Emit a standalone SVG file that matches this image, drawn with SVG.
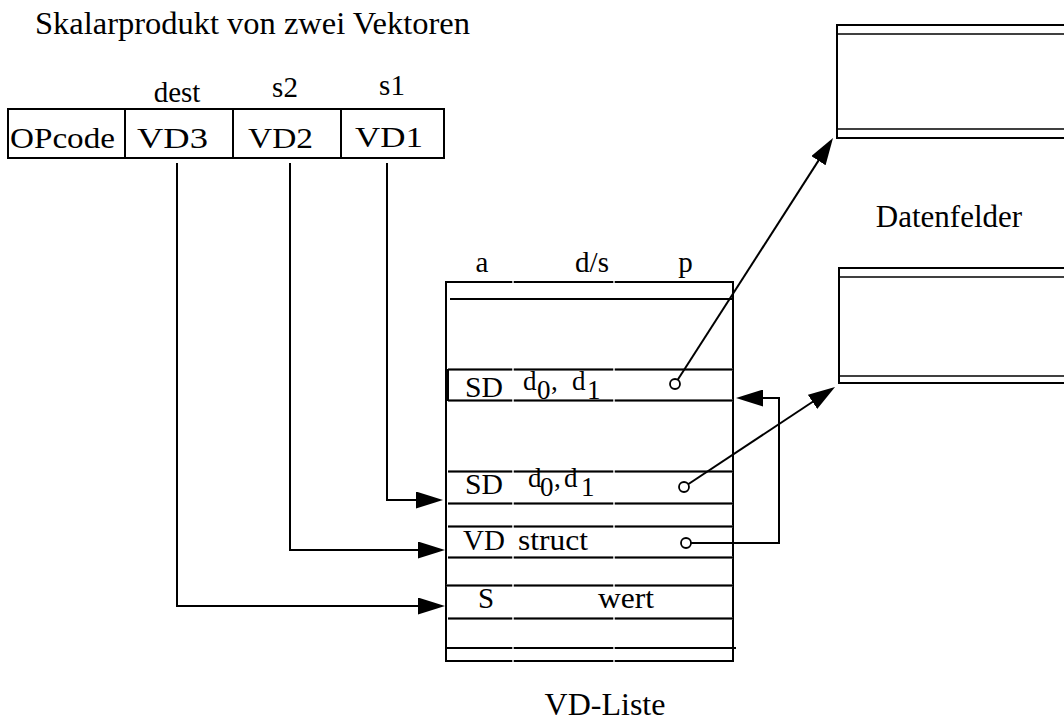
<svg xmlns="http://www.w3.org/2000/svg" width="1064" height="722" viewBox="0 0 1064 722">
<style>
text{font-family:"Liberation Serif","Times New Roman",serif;fill:#000}
.t30{font-size:30px}
.t29{font-size:29px}
.sub{font-size:27px}
.box{fill:#fff;stroke:#000;stroke-width:2}
.ln{stroke:#000;stroke-width:2;fill:none}
.thin{stroke:#000;stroke-width:1.6;fill:none}
.gr{stroke:#b0b0b0;stroke-width:2}
.hl{stroke:#000;stroke-width:2;stroke-dasharray:64 2 99 2 300}
.hl0{stroke:#000;stroke-width:2;stroke-dasharray:66 2 99 2 300}
.pin{fill:#fff;stroke:#000;stroke-width:1.8}
.conn{stroke:#000;stroke-width:2;fill:none}
</style>
<defs>
<marker id="ah" markerUnits="userSpaceOnUse" viewBox="0 0 27 17" refX="17" refY="8.5" markerWidth="27" markerHeight="17" orient="auto">
<path d="M0,0 L27,8.5 L0,17 z" fill="#000"/>
</marker>
</defs>
<rect width="1064" height="722" fill="#fff"/>

<g id="title">
<text x="35" y="34" textLength="435" lengthAdjust="spacingAndGlyphs" style="font-size:31px">Skalarprodukt von zwei Vektoren</text>
</g>

<g id="instruction">
<rect class="box" x="8" y="109" width="436" height="49"/>
<line class="ln" x1="125" y1="109" x2="125" y2="158"/>
<line class="ln" x1="233" y1="109" x2="233" y2="158"/>
<line class="ln" x1="341" y1="109" x2="341" y2="158"/>
<text class="t29" x="10" y="148" textLength="105" lengthAdjust="spacingAndGlyphs">OPcode</text>
<text class="t29" x="137" y="148" textLength="71" lengthAdjust="spacingAndGlyphs">VD3</text>
<text class="t29" x="248" y="148" textLength="65" lengthAdjust="spacingAndGlyphs">VD2</text>
<text class="t29" x="355" y="147" textLength="68" lengthAdjust="spacingAndGlyphs">VD1</text>
<text class="t29" x="177" y="102" text-anchor="middle">dest</text>
<text class="t29" x="285" y="97" text-anchor="middle">s2</text>
<text class="t29" x="392" y="95" text-anchor="middle">s1</text>
</g>

<g id="vd-liste">
<line class="ln" x1="446" y1="281" x2="446" y2="662"/>
<line class="ln" x1="733" y1="281" x2="733" y2="662"/>
<line class="gr" x1="446" y1="282" x2="733" y2="282"/>
<line class="hl0" x1="446" y1="282" x2="733" y2="282"/>
<line class="ln" x1="450" y1="299" x2="733" y2="299"/>
<g>
<line class="gr" x1="448" y1="369.5" x2="733" y2="369.5"/><line class="hl" x1="448" y1="369.5" x2="733" y2="369.5"/>
<line class="gr" x1="448" y1="400.5" x2="733" y2="400.5"/><line class="hl" x1="448" y1="400.5" x2="733" y2="400.5"/>
<line class="ln" x1="448" y1="369" x2="448" y2="401"/>
<line class="gr" x1="448" y1="471.5" x2="733" y2="471.5"/><line class="hl" x1="448" y1="471.5" x2="733" y2="471.5"/>
<line class="gr" x1="448" y1="503.5" x2="733" y2="503.5"/><line class="hl" x1="448" y1="503.5" x2="733" y2="503.5"/>
<line class="gr" x1="448" y1="526.5" x2="733" y2="526.5"/><line class="hl" x1="448" y1="526.5" x2="733" y2="526.5"/>
<line class="gr" x1="448" y1="557.5" x2="733" y2="557.5"/><line class="hl" x1="448" y1="557.5" x2="733" y2="557.5"/>
<line class="gr" x1="446" y1="585.5" x2="733" y2="585.5"/><line class="hl0" x1="446" y1="585.5" x2="733" y2="585.5"/>
<line class="gr" x1="448" y1="618.5" x2="733" y2="618.5"/><line class="hl" x1="448" y1="618.5" x2="733" y2="618.5"/>
<line class="gr" x1="446" y1="648" x2="736" y2="648"/><line class="hl0" x1="446" y1="648" x2="736" y2="648"/>
<line class="gr" x1="446" y1="661" x2="733" y2="661"/><line class="hl0" x1="446" y1="661" x2="733" y2="661"/>
</g>
<text class="t29" x="482" y="272" text-anchor="middle">a</text>
<text class="t29" x="592" y="272" text-anchor="middle">d/s</text>
<text class="t29" x="685.5" y="272" text-anchor="middle">p</text>
<text class="t29" x="465" y="397" textLength="38" lengthAdjust="spacingAndGlyphs">SD</text>
<text class="sub"><tspan x="523" y="390">d</tspan><tspan x="537" y="399">0</tspan><tspan x="551" y="390">,</tspan><tspan x="572" y="390">d</tspan><tspan x="587" y="399">1</tspan></text>
<text class="t29" x="465" y="494" textLength="38" lengthAdjust="spacingAndGlyphs">SD</text>
<text class="sub"><tspan x="528" y="487">d</tspan><tspan x="540" y="496">0</tspan><tspan x="554" y="487">,</tspan><tspan x="564" y="487">d</tspan><tspan x="581" y="496">1</tspan></text>
<text class="t29" x="463" y="550">VD</text>
<text class="t29" x="518" y="550" textLength="70" lengthAdjust="spacingAndGlyphs">struct</text>
<text class="t29" x="478" y="608">S</text>
<text class="t29" x="598" y="608" textLength="56" lengthAdjust="spacingAndGlyphs">wert</text>
<text x="605" y="715" text-anchor="middle" style="font-size:32px">VD-Liste</text>
</g>

<g id="datenfeld-1">
<rect class="box" x="837" y="25" width="240" height="113"/>
<line class="thin" x1="837" y1="34" x2="1064" y2="34"/>
<line class="thin" x1="837" y1="129" x2="1064" y2="129"/>
</g>

<g id="datenfeld-2">
<rect class="box" x="839" y="268" width="240" height="115"/>
<line class="thin" x1="839" y1="277" x2="1064" y2="277"/>
<line class="thin" x1="839" y1="376" x2="1064" y2="376"/>
</g>

<g id="label-datenfelder">
<text x="949" y="227" text-anchor="middle" style="font-size:31px">Datenfelder</text>
</g>

<g id="connectors">
<polyline class="conn" points="387,163 387,500 433,500" marker-end="url(#ah)"/>
<polyline class="conn" points="290,163 290,550 435,550" marker-end="url(#ah)"/>
<polyline class="conn" points="177,163 177,606 435,606" marker-end="url(#ah)"/>
<line class="conn" x1="675" y1="384" x2="827.6" y2="146.4" marker-end="url(#ah)"/>
<line class="conn" x1="684" y1="487" x2="826.7" y2="392.5" marker-end="url(#ah)"/>
<polyline class="conn" points="686,543 779,543 779,398 746,398" marker-end="url(#ah)"/>
<circle class="pin" cx="675" cy="384" r="5"/>
<circle class="pin" cx="684" cy="487" r="5"/>
<circle class="pin" cx="686" cy="543" r="5"/>
</g>
</svg>
